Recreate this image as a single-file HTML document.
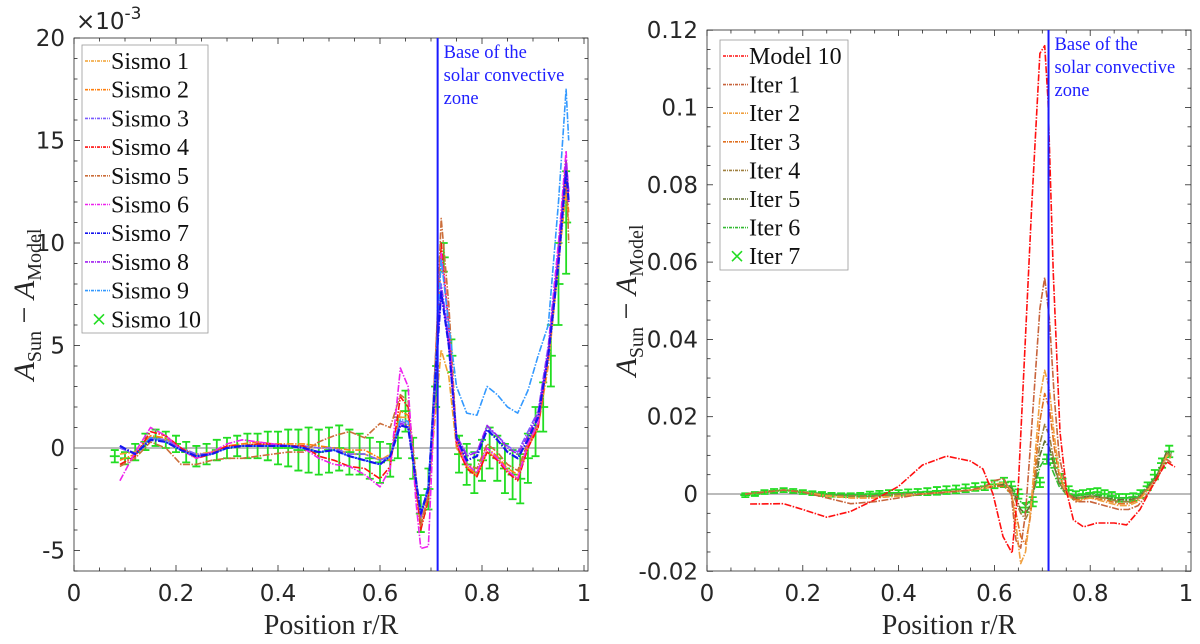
<!DOCTYPE html>
<html><head><meta charset="utf-8"><style>
body{margin:0;background:#fff}
svg{display:block}
.tk{font-family:"DejaVu Sans","Liberation Sans",sans-serif;font-size:23px;fill:#262626}
.sf{font-family:"Liberation Serif","DejaVu Serif",serif}
</style></head><body>
<svg id="chart" width="1200" height="644" viewBox="0 0 1200 644" xmlns="http://www.w3.org/2000/svg"></svg>
<script>
// ---------- LEFT PANEL DATA (units 1e-3) ----------
const sismoX=[0.09,0.12,0.15,0.18,0.21,0.24,0.27,0.30,0.33,0.36,0.39,0.42,0.45,0.48,0.51,0.54,0.57,0.60,0.62,0.64,0.655,0.67,0.68,0.695,0.71,0.72,0.735,0.75,0.77,0.79,0.81,0.83,0.85,0.87,0.89,0.91,0.93,0.95,0.965,0.97];
const sismo1=[-0.3,-0.2,0.5,0.4,0,-0.3,-0.2,0,0.1,0.2,0.1,0.1,0.1,0,0,-0.3,-0.3,-0.6,-0.3,1.5,1.5,-1.5,-3.5,-2.2,2,4.8,3.5,0,-0.9,-1.4,-0.2,-0.5,-1.1,-1.5,0,1.0,4,9,12.5,11];
const sismo2=[-0.6,-0.3,0.6,0.5,0,-0.4,-0.2,0.1,0.2,0.3,0.2,0.2,0.2,0.1,0,-0.1,-0.1,-0.5,-0.6,1.8,1.6,-1.8,-3.8,-2.5,4,9.5,6,0.3,-0.9,-1.3,0,-0.4,-1.0,-1.3,0.1,1.2,4.5,9.5,13,11.5];
const sismo3=[0,-0.3,0.5,0.4,0,-0.3,-0.3,0,0.1,0.1,0.1,0.1,0.1,0,0,-0.3,-0.3,-0.6,-0.4,1.3,1.2,-1.6,-3.4,-1.8,4.5,8,5.5,0.6,-0.3,-0.2,1.0,0.6,0.1,-0.2,0.8,1.8,5,10,14,12.5];
const sismo4=[-0.8,-0.4,0.8,0.6,0,-0.5,-0.3,0.1,0.1,0.2,0.2,0.1,0.1,-0.4,-0.6,-0.9,-1.0,-1.5,-0.9,2.5,2.0,-1.8,-4.0,-2.5,5,10,6,0.2,-1.0,-1.4,-0.2,-0.6,-1.2,-1.6,0,1.0,4.5,9.5,14,12];
const sismo5=[-0.9,-0.5,0.3,0,-0.8,-0.8,-0.6,-0.5,-0.5,-0.4,-0.3,-0.2,-0.2,0.3,0.6,0.8,0.5,1.2,1.0,2.6,2.3,-1.2,-3.8,-2.3,5,11.2,7,0.5,-0.8,-1.0,0.2,-0.2,-0.8,-1.1,0.3,1.2,4.5,9.5,14,10];
const sismo6=[-1.6,-0.2,1.0,0.6,-0.1,-0.5,-0.2,0.2,0.4,0.3,0.2,0.1,0,-0.5,-0.8,-0.9,-1.3,-1.9,-1.0,3.9,3.0,-2.5,-4.9,-4.8,4,9.5,6,0.3,-0.8,-1.2,0,-0.5,-1.1,-1.5,0.2,1.2,4.8,10,14.5,12];
const sismo7=[0.1,-0.3,0.4,0.3,-0.1,-0.4,-0.3,0,0.1,0.1,0.1,0.1,0,-0.2,-0.1,-0.4,-0.6,-0.8,-0.4,1.1,1.0,-1.5,-3.2,-2.0,4,7.6,5,0.5,-0.6,-0.4,0.9,0.4,-0.2,-0.5,0.4,1.5,4.5,9,13.5,12];
const sismo8=[0.1,-0.3,0.5,0.3,-0.1,-0.4,-0.3,0,0.1,0.1,0.1,0.1,0,-0.2,-0.1,-0.4,-0.6,-0.8,-0.4,1.2,1.1,-1.5,-3.3,-2.0,4,7.8,5,0.6,-0.4,-0.2,1.1,0.6,0,-0.3,0.6,1.7,4.8,9.5,14,12.5];
const sismo9=[0.1,-0.3,0.5,0.3,-0.1,-0.4,-0.3,0,0.1,0.1,0.1,0.1,0,-0.2,-0.1,-0.4,-0.6,-0.8,-0.4,1.4,1.3,-1.5,-3.2,-1.8,4.5,9.2,6,3,1.7,1.6,3.0,2.6,2.0,1.7,2.8,4.5,6,12,17.5,15];
const sismo10X=[0.08,0.1,0.12,0.14,0.16,0.18,0.2,0.22,0.24,0.26,0.28,0.3,0.32,0.34,0.36,0.38,0.4,0.42,0.44,0.46,0.48,0.5,0.52,0.54,0.56,0.58,0.6,0.62,0.635,0.65,0.665,0.68,0.695,0.71,0.725,0.74,0.755,0.77,0.785,0.8,0.815,0.83,0.845,0.86,0.875,0.89,0.905,0.92,0.935,0.95,0.965];
const sismo10=[-0.4,-0.5,-0.2,0.3,0.5,0.4,0.2,-0.2,-0.4,-0.3,-0.1,0,0.1,0.1,0.1,0.1,0,0,-0.1,-0.1,-0.2,-0.1,0,-0.2,-0.3,-0.5,-0.7,-0.6,0.5,1.8,-0.5,-3.2,-2,3,9.3,4.5,-0.3,-0.8,-1.2,-0.6,0,-0.5,-1.0,-1.3,-1.5,-0.5,0.8,2,4.5,8,11];
const sismo10Err=[0.3,0.3,0.4,0.4,0.4,0.4,0.4,0.5,0.5,0.5,0.5,0.5,0.5,0.6,0.6,0.7,0.8,0.9,1.0,1.1,1.1,1.1,1.1,1.1,1.0,1.0,1.0,0.8,1.0,1.0,1.0,0.9,1.0,1.0,0.7,0.8,0.9,1.0,1.0,1.0,1.0,1.1,1.2,1.2,1.2,1.2,1.2,1.2,1.5,2.0,2.5];
const leftXTicks=[0,0.2,0.4,0.6,0.8,1];
const leftXTickLabels=["0","0.2","0.4","0.6","0.8","1"];
const leftYTicks=[-5,0,5,10,15,20];
const leftYTickLabels=["-5","0","5","10","15","20"];
const leftNames=["Sismo 1","Sismo 2","Sismo 3","Sismo 4","Sismo 5","Sismo 6","Sismo 7","Sismo 8","Sismo 9","Sismo 10"];

// ---------- RIGHT PANEL DATA ----------
const modelX=[0.09,0.16,0.2,0.25,0.3,0.35,0.4,0.45,0.5,0.55,0.576,0.597,0.618,0.637,0.65,0.664,0.678,0.695,0.705,0.712,0.723,0.737,0.751,0.765,0.786,0.814,0.85,0.876,0.904,0.932,0.96,0.977];
const model10=[-0.0026,-0.0025,-0.004,-0.006,-0.0045,-0.0015,0.002,0.0075,0.0098,0.0085,0.0065,0,-0.011,-0.0153,0.0026,0.0386,0.075,0.114,0.116,0.102,0.057,0.016,0.0005,-0.0067,-0.0085,-0.0075,-0.0075,-0.008,-0.004,0.0026,0.0083,0.007];
const iterX=[0.08,0.12,0.16,0.2,0.25,0.3,0.35,0.4,0.45,0.5,0.55,0.58,0.6,0.62,0.635,0.645,0.655,0.665,0.675,0.685,0.695,0.705,0.715,0.725,0.735,0.75,0.77,0.8,0.83,0.86,0.88,0.9,0.92,0.94,0.96,0.97];
const iter1=[0,0.0005,0.001,0.0005,-0.001,-0.0025,-0.002,-0.001,0,0.0005,0.001,0.002,0.0035,0.004,0.0,-0.012,-0.014,-0.005,0.012,0.03,0.048,0.056,0.045,0.025,0.01,0.001,-0.002,-0.002,-0.003,-0.004,-0.004,-0.003,0,0.004,0.009,0.008];
const iter2=[0,0.0005,0.001,0.0005,-0.0005,-0.001,-0.001,-0.0005,0,0.0005,0.001,0.0015,0.0025,0.003,0.001,-0.008,-0.018,-0.015,-0.005,0.01,0.025,0.032,0.027,0.015,0.006,0,-0.002,-0.001,-0.002,-0.003,-0.003,-0.002,0.001,0.004,0.01,0.009];
const iter3=[0,0.0005,0.001,0.0005,-0.0005,-0.001,-0.001,-0.0005,0,0.0005,0.001,0.0015,0.002,0.002,0,-0.005,-0.011,-0.013,-0.006,0.006,0.019,0.026,0.022,0.012,0.005,0,-0.0015,-0.001,-0.0015,-0.0025,-0.0025,-0.0015,0.001,0.004,0.01,0.0095];
const iter4=[0,0.0005,0.001,0.0005,-0.0003,-0.0005,-0.0005,0,0,0.0005,0.001,0.0015,0.002,0.002,0.001,-0.002,-0.005,-0.0065,-0.004,0.004,0.013,0.018,0.015,0.008,0.003,0,-0.001,-0.0005,-0.001,-0.002,-0.002,-0.001,0.0015,0.0045,0.0105,0.01];
const iter5=[0,0.0005,0.001,0.0005,-0.0003,-0.0005,-0.0005,0,0,0.0005,0.001,0.0015,0.002,0.0025,0.0015,-0.001,-0.004,-0.005,-0.003,0.003,0.01,0.0137,0.012,0.007,0.003,0,-0.001,-0.0005,-0.001,-0.0015,-0.0015,-0.001,0.0015,0.005,0.011,0.0105];
const iter6=[0,0.0005,0.001,0.0005,0,-0.0003,-0.0003,0,0.0003,0.0005,0.001,0.0015,0.002,0.0025,0.002,0,-0.002,-0.003,-0.002,0.002,0.007,0.009,0.008,0.005,0.002,0,-0.0005,0,-0.0005,-0.001,-0.001,-0.0005,0.002,0.005,0.011,0.011];
const iter7X=[0.08,0.1,0.12,0.14,0.16,0.18,0.2,0.22,0.24,0.26,0.28,0.3,0.32,0.34,0.36,0.38,0.4,0.42,0.44,0.46,0.48,0.5,0.52,0.54,0.56,0.58,0.6,0.62,0.635,0.65,0.665,0.68,0.695,0.71,0.725,0.74,0.755,0.77,0.785,0.8,0.815,0.83,0.845,0.86,0.875,0.89,0.905,0.92,0.935,0.95,0.965];
const iter7=[-0.0003,0,0.0005,0.0008,0.001,0.0008,0.0005,0.0002,0,-0.0002,-0.0003,-0.0003,-0.0002,0,0.0002,0.0003,0.0003,0.0004,0.0005,0.0006,0.0008,0.001,0.0012,0.0015,0.0018,0.002,0.0025,0.003,0.002,0,-0.0035,-0.002,0.003,0.009,0.008,0.004,0.001,-0.0003,0,0.0003,0.0005,0,-0.0005,-0.001,-0.001,-0.0008,0,0.002,0.005,0.008,0.011];
const iter7Err=[0.0005,0.0005,0.0005,0.0005,0.0005,0.0005,0.0005,0.0005,0.0005,0.0005,0.0005,0.0005,0.0005,0.0006,0.0006,0.0007,0.0007,0.0008,0.0008,0.0009,0.001,0.001,0.001,0.001,0.001,0.001,0.001,0.0012,0.0012,0.0012,0.0012,0.0012,0.0012,0.0012,0.0012,0.0012,0.001,0.001,0.001,0.001,0.001,0.001,0.001,0.001,0.001,0.001,0.001,0.001,0.0012,0.0012,0.0015];
const rightXTicks=[0,0.2,0.4,0.6,0.8,1];
const rightXTickLabels=["0","0.2","0.4","0.6","0.8","1"];
const rightYTicks=[-0.02,0,0.02,0.04,0.06,0.08,0.1,0.12];
const rightYTickLabels=["-0.02","0","0.02","0.04","0.06","0.08","0.1","0.12"];
const rightNames=["Model 10","Iter 1","Iter 2","Iter 3","Iter 4","Iter 5","Iter 6","Iter 7"];

const NS="http://www.w3.org/2000/svg";
const svg=document.getElementById('chart');
function mk(tag,attrs,parent){const e=document.createElementNS(NS,tag);for(const k in attrs)e.setAttribute(k,attrs[k]);(parent||svg).appendChild(e);return e;}
const DASH="7,1.5,1.5,1.5";

function panel(P){
  const g=mk('g',{});
  
  
  const xS=r=>P.x0+r*P.xk, yS=v=>P.y0-v*P.yk;
  const fr=mk('rect',{x:P.L,y:P.T,width:P.R-P.L,height:P.B-P.T,fill:'none',stroke:'#262626','stroke-width':0.8},g);
  
  
  for(let r=0;r<=1.0001;r+=0.05){const x=xS(r);const maj=Math.abs(r*5-Math.round(r*5))<1e-6;const l=maj?6:3.5;
    mk('line',{x1:x,x2:x,y1:P.B,y2:P.B-l,stroke:'#262626','stroke-width':0.8},g);
    mk('line',{x1:x,x2:x,y1:P.T,y2:P.T+l,stroke:'#262626','stroke-width':0.8},g);}
  for(let v=P.ymin;v<=P.ymax+1e-9;v+=P.minor){const y=yS(v);const maj=P.yTicks.some(t=>Math.abs(t-v)<1e-9);const l=maj?6:3.5;
    mk('line',{x1:P.L,x2:P.L+l,y1:y,y2:y,stroke:'#262626','stroke-width':0.8},g);
    mk('line',{x1:P.R,x2:P.R-l,y1:y,y2:y,stroke:'#262626','stroke-width':0.8},g);}
  P.xTicks.forEach((t,i)=>{const e=mk('text',{x:xS(t),y:P.B+30,'text-anchor':'middle',class:'tk'},g);e.textContent=P.xLabels[i];
    });
  P.yTicks.forEach((t,i)=>{const e=mk('text',{x:P.L-9,y:yS(t)+8,'text-anchor':'end',class:'tk'},g);e.textContent=P.yLabels[i];
    });
  const z=mk('line',{x1:P.L,x2:P.R,y1:yS(0),y2:yS(0),stroke:'#777','stroke-width':1},g);
  
  const clipId='c'+P.name;
  const cp=mk('clipPath',{id:clipId},g);mk('rect',{x:P.L,y:P.T,width:P.R-P.L,height:P.B-P.T},cp);
  const dg=mk('g',{'clip-path':'url(#'+clipId+')'},g);
  P.markers.forEach(m=>{
    m.ys.forEach((v,i)=>{const x=xS(m.xs[i]);const y1=yS(v-m.err[i]),y2=yS(v+m.err[i]);const c='#22dd22';
      const eb=mk('path',{d:`M${x},${y1}V${y2}M${x-4},${y1}H${x+4}M${x-4},${y2}H${x+4}`,stroke:c,'stroke-width':1.8,fill:'none'},dg);
      
      const yy=yS(v);
      const mm=mk('path',{d:`M${x-5},${yy}H${x+5}`,stroke:c,'stroke-width':1.8},dg);
      });
  });
  P.series.forEach(s=>{
    const d=s.ys.map((v,i)=>(i?'L':'M')+xS(s.xs[i]).toFixed(1)+','+yS(v).toFixed(1)).join('');
    const p=mk('path',{d:d,fill:'none',stroke:s.c,'stroke-width':s.w||1.6,'stroke-dasharray':DASH,'stroke-linejoin':'round'},dg);
    
    
  });
  const vl=mk('line',{x1:xS(0.713),x2:xS(0.713),y1:P.T,y2:P.B,stroke:'#1a1aff','stroke-width':2},g);
  
  const an=mk('text',{x:xS(0.713)+6,y:P.T+20,class:'sf','font-size':18.5,fill:'#2020ff'},g);
  
  ['Base of the','solar convective','zone'].forEach((t,i)=>{const ts=mk('tspan',{x:xS(0.713)+6,dy:i?23:0},an);ts.textContent=t;});
  const lg=mk('g',{},g);
  mk('rect',{x:P.lg.x,y:P.lg.y,width:P.lg.w,height:P.lg.h,fill:'#fff',stroke:'#999','stroke-width':0.8},lg);
  P.legend.forEach((e,i)=>{const y=P.lg.y+16+i*P.lg.dy;const en=mk('g',{},lg);
    
    if(e.marker){mk('path',{d:`M${P.lg.x+12},${y-5}l10,10M${P.lg.x+12},${y+5}l10,-10`,stroke:'#22dd22','stroke-width':1.6},en);}
    else mk('line',{x1:P.lg.x+3,x2:P.lg.x+28,y1:y,y2:y,stroke:e.c,'stroke-width':1.6,'stroke-dasharray':'3,1,1,1'},en);
    const t=mk('text',{x:P.lg.x+29,y:y+8,class:'sf','font-size':24,fill:'#111'},en);t.textContent=e.n;});
  const xt=mk('text',{x:(P.L+P.R)/2,y:634,'text-anchor':'middle',class:'sf','font-size':28,fill:'#262626'},g);
  xt.textContent='Position r/R';
  const yt=mk('text',{x:0,y:0,transform:`translate(${P.ytx},${(P.T+P.B)/2}) rotate(-90)`,'text-anchor':'middle',class:'sf','font-size':30,fill:'#262626'},g);
  
  yt.innerHTML='<tspan font-style="italic">A</tspan><tspan font-size="20" dy="7">Sun</tspan><tspan dy="-7"> − </tspan><tspan font-style="italic">A</tspan><tspan font-size="20" dy="7">Model</tspan>';
}

const lc=['#f0a030','#ff7f0e','#7b5cff','#ff1010','#cc6e3a','#ee22ee','#1515ee','#a020f0','#3399ff'];
const ls=[sismo1,sismo2,sismo3,sismo4,sismo5,sismo6,sismo8,sismo9,sismo7];
const lcol=[lc[0],lc[1],lc[2],lc[3],lc[4],lc[5],lc[7],lc[8],lc[6]];
const lnm=[leftNames[0],leftNames[1],leftNames[2],leftNames[3],leftNames[4],leftNames[5],leftNames[7],leftNames[8],leftNames[6]];
panel({name:'left-panel',L:74,R:588,T:38,B:571,x0:74,xk:510,y0:448,yk:20.5,ymin:-6,ymax:20,minor:1,
  xTicks:leftXTicks,xLabels:leftXTickLabels,yTicks:leftYTicks,yLabels:leftYTickLabels,
  markers:[{xs:sismo10X,ys:sismo10,err:sismo10Err}],
  series:ls.map((a,i)=>({xs:sismoX,ys:a,c:lcol[i],n:lnm[i],w:lnm[i]==='Sismo 7'?2.2:1.6})),
  legend:leftNames.map((n,i)=>i<9?{n:n,c:lc[i]}:{n:n,marker:true}),
  lg:{x:82,y:45,w:126,h:288,dy:28.7},ytx:34});
const ex=mk('text',{x:76,y:29,'class':'tk','font-size':24});

ex.innerHTML='×10<tspan font-size="17" dy="-10">-3</tspan>';

const rc=['#ff1010','#c8643c','#f0a040','#e07020','#a08040','#607030','#33bb33'];
panel({name:'right-panel',L:707,R:1191,T:30,B:571,x0:707,xk:479,y0:494,yk:3865,ymin:-0.02,ymax:0.12,minor:0.005,
  xTicks:rightXTicks,xLabels:rightXTickLabels,yTicks:rightYTicks,yLabels:rightYTickLabels,
  markers:[{xs:iter7X,ys:iter7,err:iter7Err}],
  series:[{xs:iterX,ys:iter6,c:rc[6],n:'Iter 6'},{xs:iterX,ys:iter5,c:rc[5],n:'Iter 5'},{xs:iterX,ys:iter4,c:rc[4],n:'Iter 4'},
    {xs:iterX,ys:iter3,c:rc[3],n:'Iter 3'},{xs:iterX,ys:iter2,c:rc[2],n:'Iter 2'},{xs:iterX,ys:iter1,c:rc[1],n:'Iter 1'},
    {xs:modelX,ys:model10,c:rc[0],n:'Model 10'}],
  legend:rightNames.map((n,i)=>i<7?{n:n,c:rc[i]}:{n:n,marker:true}),
  lg:{x:720,y:40,w:128,h:230,dy:28.6},ytx:636});
</script>
</body></html>
